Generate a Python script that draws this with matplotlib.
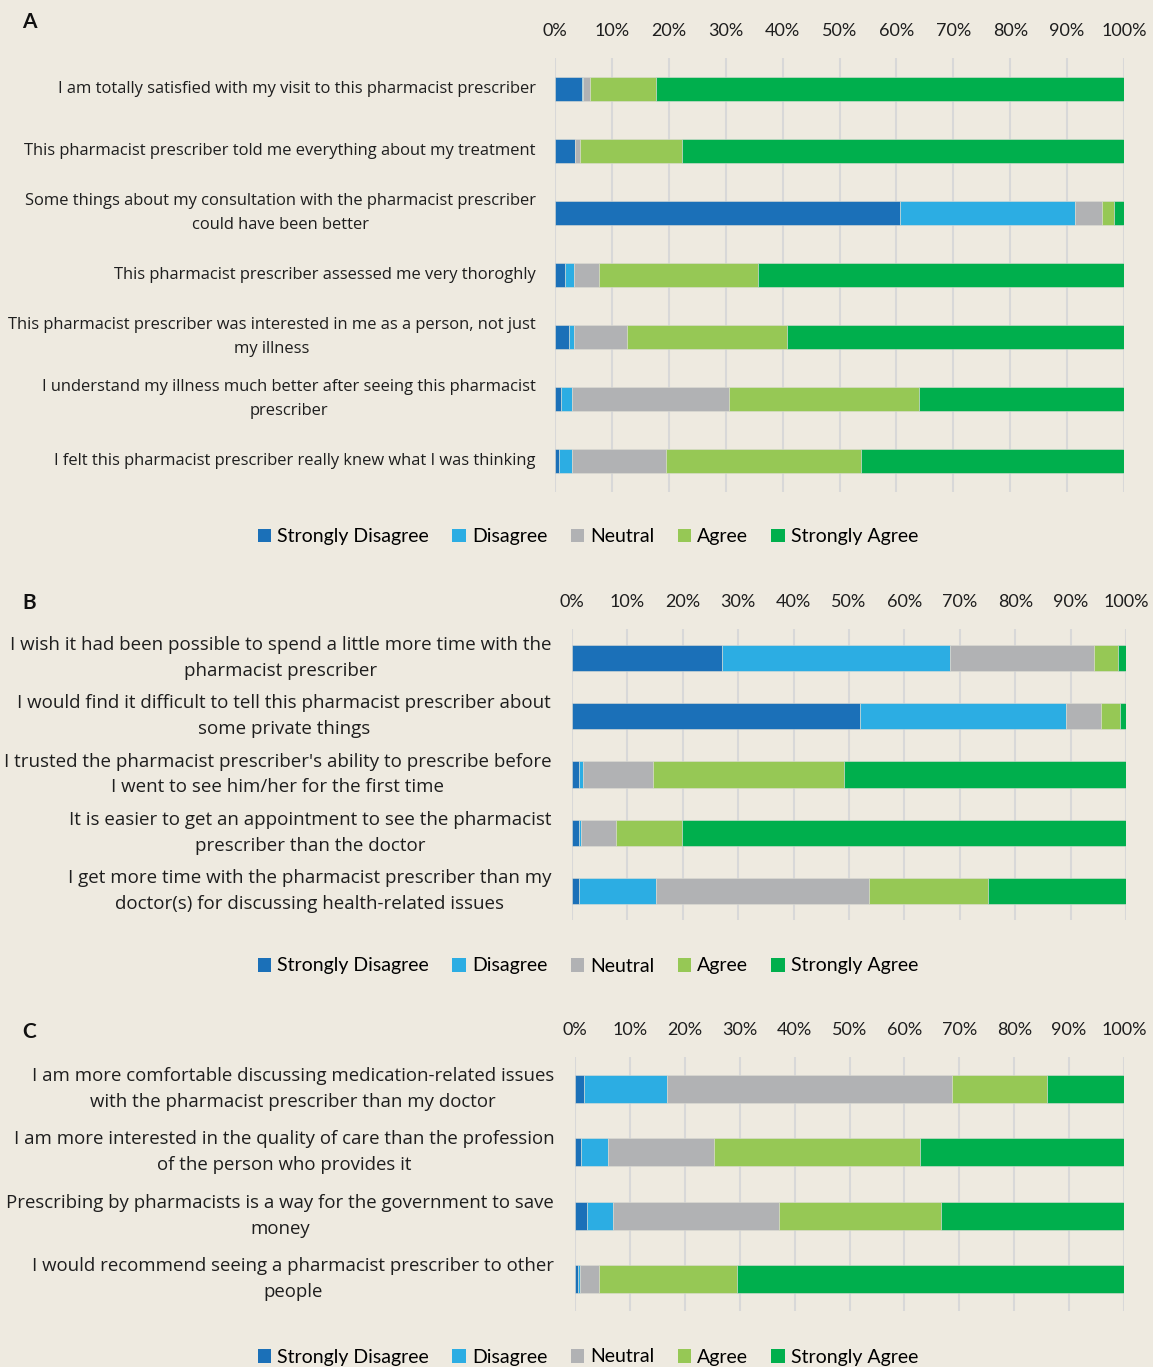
import matplotlib
matplotlib.use("Agg")
import matplotlib.pyplot as plt
import matplotlib.transforms as mtransforms
from matplotlib.patches import Patch
import numpy as np

levels = ["Strongly Disagree", "Disagree", "Neutral", "Agree", "Strongly Agree"]
colors = ["#1B70B8", "#2CADE3", "#B1B2B4", "#96C855", "#00AF4D"]

cats_a = [
    "I am totally satisfied with my visit to this pharmacist prescriber",
    "This pharmacist prescriber told me everything about my treatment",
    "Some things about my consultation with the pharmacist prescriber\ncould have been better",
    "This pharmacist prescriber assessed me very thoroghly",
    "This pharmacist prescriber was interested in me as a person, not just\nmy illness",
    "I understand my illness much better after seeing this pharmacist\nprescriber",
    "I felt this pharmacist prescriber really knew what I was thinking",
]
sd_a = [4.7, 3.6, 60.7, 1.8, 2.4, 1.1, 0.7]
d_a = [0.3, 0.0, 30.7, 1.5, 1.0, 1.8, 2.2]
n_a = [1.2, 0.8, 4.8, 4.4, 9.2, 27.7, 16.6]
ag_a = [11.6, 17.9, 2.1, 27.9, 28.2, 33.3, 34.3]
sa_a = [82.2, 77.7, 1.7, 64.4, 59.2, 36.1, 46.2]

cats_b = [
    "I wish it had been possible to spend a little more time with the\npharmacist prescriber",
    "I would find it difficult to tell this pharmacist prescriber about\nsome private things",
    "I trusted the pharmacist prescriber's ability to prescribe before\nI went to see him/her for the first time",
    "It is easier to get an appointment to see the pharmacist\nprescriber than the doctor",
    "I get more time with the pharmacist prescriber than my\ndoctor(s) for discussing health-related issues",
]
sd_b = [27.1, 51.9, 1.2, 1.2, 1.3]
d_b = [41.1, 37.3, 0.7, 0.5, 13.9]
n_b = [26.1, 6.3, 12.7, 6.3, 38.5]
ag_b = [4.2, 3.5, 34.5, 11.9, 21.4]
sa_b = [1.5, 1.0, 50.9, 80.1, 24.9]

cats_c = [
    "I am more comfortable discussing medication-related issues\nwith the pharmacist prescriber than my doctor",
    "I am more interested in the quality of care than the profession\nof the person who provides it",
    "Prescribing by pharmacists is a way for the government to save\nmoney",
    "I would recommend seeing a pharmacist prescriber to other\npeople",
]
sd_c = [1.6, 1.1, 2.2, 0.5]
d_c = [15.1, 4.9, 4.7, 0.5]
n_c = [51.9, 19.4, 30.3, 3.3]
ag_c = [17.4, 37.5, 29.4, 25.2]
sa_c = [14.0, 37.1, 33.4, 70.5]

xticks = [0, 10, 20, 30, 40, 50, 60, 70, 80, 90, 100]
xticklabels = ["0%", "10%", "20%", "30%", "40%", "50%", "60%", "70%", "80%", "90%", "100%"]

BG = "#EEEAE0"
FAM = ["Lato", "DejaVu Sans"]
LABFAM = ["Open Sans", "DejaVu Sans"]
plt.rcParams['font.family'] = FAM

W, H = 1153, 1367
fig = plt.figure(figsize=(W / 100, H / 100), dpi=100)
fig.patch.set_facecolor(BG)


def px_axes(x0, x1, y0, y1):
    return fig.add_axes([x0 / W, 1 - y1 / H, (x1 - x0) / W, (y1 - y0) / H])


def panel(box, cats, series, bar_h, label_fs, tick_fs, letter, letter_y, legend_y, ypad, lsp):
    ax = px_axes(*box)
    ax.set_facecolor(BG)
    y = np.arange(len(cats))
    left = np.zeros(len(cats))
    for vals, col, lab in zip(series, colors, levels):
        v = np.array(vals)
        ax.barh(y, v, left=left, height=bar_h, color=col, label=lab, zorder=3,
                edgecolor="#DDDDD5", linewidth=0.4)
        left += v
    ax.set_xlim(0, 100)
    ax.set_ylim(len(cats) - 0.5, -0.5)
    ax.set_yticks(y)
    ax.set_yticklabels(cats, fontsize=label_fs, color="#1E1E1E", ha="right", va="center",
                       multialignment="center", family=LABFAM, linespacing=lsp)
    shift = mtransforms.ScaledTranslation(0, -2 / 100, fig.dpi_scale_trans)
    for t in ax.get_yticklabels():
        t.set_transform(t.get_transform() + shift)
    ax.set_xticks(xticks)
    ax.set_xticklabels(xticklabels, fontsize=tick_fs, color="#1E1E1E")
    ax.xaxis.tick_top()
    ax.tick_params(axis="both", length=0)
    ax.tick_params(axis="x", pad=14)
    ax.tick_params(axis="y", pad=ypad)
    ax.grid(axis="x", color="#D8D8D8", linewidth=1.5, zorder=0)
    for s in ax.spines.values():
        s.set_visible(False)
    fig.text(22 / W, 1 - letter_y / H, letter, fontsize=15, fontweight="bold",
             ha="left", va="center", color="#111111")
    handles = [Patch(facecolor=c, label=l) for c, l in zip(colors, levels)]
    fig.legend(handles=handles, loc="center", bbox_to_anchor=(588 / W, 1 - legend_y / H),
               ncol=5, frameon=False, fontsize=14, handlelength=0.7, handleheight=0.7,
               handletextpad=0.3, columnspacing=1.2)
    return ax


panel((555, 1124, 58, 492), cats_a, [sd_a, d_a, n_a, ag_a, sa_a], 0.39, 11.9, 13,
      "A", 22, 537, 14, 1.65)
panel((572, 1126, 629, 920), cats_b, [sd_b, d_b, n_b, ag_b, sa_b], 0.45, 13.5, 13,
      "B", 603, 966, 15, 1.55)
panel((575, 1124, 1057, 1311), cats_c, [sd_c, d_c, n_c, ag_c, sa_c], 0.44, 13.4, 13,
      "C", 1032, 1357, 15, 1.55)

fig.savefig("out.png", dpi=100, facecolor=BG)
